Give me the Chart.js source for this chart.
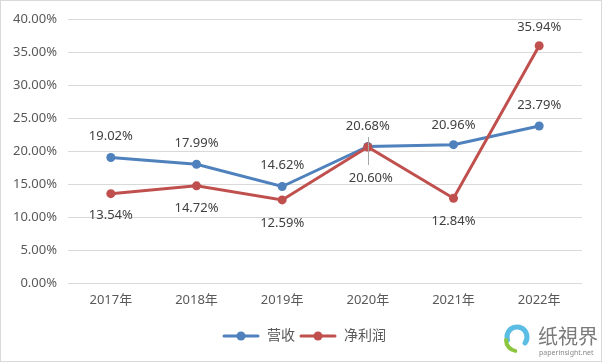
<!DOCTYPE html>
<html>
<head>
<meta charset="utf-8">
<script src="https://cdn.jsdelivr.net/npm/chart.js@4"></script>
<style>
  html, body { margin: 0; padding: 0; background: #ffffff; }
  #wrap { position: relative; width: 602px; height: 362px; }
</style>
</head>
<body>
<div id="wrap"><canvas id="c" width="602" height="362"></canvas></div>
<script>
// ---- data ----
const categories = ['2017年', '2018年', '2019年', '2020年', '2021年', '2022年'];
const revenueGrowth = [19.02, 17.99, 14.62, 20.68, 20.96, 23.79];   // 营收
const profitGrowth  = [13.54, 14.72, 12.59, 20.60, 12.84, 35.94];   // 净利润
const seriesNames = ['营收', '净利润'];
const yTicks = { min: 0, max: 40, step: 5 };

// ---- label placement (vertical offset of each value label from its point) ----
const revenueLabelDy = [-21, -21, -21, -20, -19, -21];
const profitLabelDy  = [22, 22, 23, 31, 23, -18];

const BLUE = '#4F81BD';
const RED = '#C0504D';
const FONT = "'Noto Sans', 'Noto Sans CJK SC', sans-serif";

function legendIcon(color) {
  const c = document.createElement('canvas');
  c.width = 38; c.height = 12;
  const g = c.getContext('2d');
  g.strokeStyle = color; g.lineWidth = 3; g.lineCap = 'round';
  g.beginPath(); g.moveTo(2, 6); g.lineTo(36, 6); g.stroke();
  g.fillStyle = color;
  g.beginPath(); g.arc(19, 6, 4.5, 0, Math.PI * 2); g.fill();
  return c;
}
const icons = [legendIcon(BLUE), legendIcon(RED)];
const labelDy = [revenueLabelDy, profitLabelDy];

const valueLabels = {
  id: 'valueLabels',
  afterDatasetsDraw(chart) {
    const ctx = chart.ctx;
    ctx.save();
    ctx.font = '13px ' + FONT;
    ctx.fillStyle = '#404040';
    ctx.textAlign = 'center';
    ctx.textBaseline = 'middle';
    chart.data.datasets.forEach((ds, di) => {
      const meta = chart.getDatasetMeta(di);
      meta.data.forEach((pt, i) => {
        const dy = labelDy[di][i];
        let dx = 0;
        if (di === 1 && i === 3) {
          // leader line for the crowded 2020 label
          ctx.save();
          ctx.strokeStyle = '#a6a6a6';
          ctx.lineWidth = 1;
          ctx.beginPath();
          ctx.moveTo(Math.round(pt.x) + 0.5, pt.y - 10);
          ctx.lineTo(Math.round(pt.x) + 0.5, pt.y + 18);
          ctx.stroke();
          ctx.restore();
          dx = 3;
        }
        ctx.fillText(ds.data[i].toFixed(2) + '%', pt.x + dx, pt.y + dy);
      });
    });
    ctx.restore();
  }
};

const frameAndMark = {
  id: 'frameAndMark',
  beforeDraw(chart) {
    const ctx = chart.ctx;
    ctx.save();
    ctx.fillStyle = '#ffffff';
    ctx.fillRect(0, 0, chart.width, chart.height);
    ctx.restore();
  },
  afterDraw(chart) {
    const ctx = chart.ctx;
    ctx.save();
    ctx.strokeStyle = '#d9d9d9';
    ctx.lineWidth = 1;
    ctx.strokeRect(0.5, 0.5, chart.width - 1, chart.height - 1);
    // watermark logo
    ctx.lineCap = 'round';
    ctx.strokeStyle = '#5bbde4';
    ctx.lineWidth = 5;
    ctx.beginPath();
    ctx.arc(517, 337, 10, Math.PI * 0.9, Math.PI * 2.2);
    ctx.stroke();
    ctx.strokeStyle = '#8cc63f';
    ctx.lineWidth = 4;
    ctx.beginPath();
    ctx.arc(517, 340, 11, Math.PI * 0.55, Math.PI * 1.0);
    ctx.stroke();
    ctx.fillStyle = '#7a7a7a';
    ctx.font = "20px 'Noto Sans CJK SC', sans-serif";
    ctx.textAlign = 'left';
    ctx.textBaseline = 'middle';
    ctx.fillText('纸視界', 538, 336);
    ctx.font = "7px 'Noto Sans', sans-serif";
    ctx.fillStyle = '#888888';
    ctx.fillText('paperinsight.net', 539, 353);
    ctx.restore();
  }
};

new Chart(document.getElementById('c'), {
  type: 'line',
  data: {
    labels: categories,
    datasets: [
      { label: seriesNames[0], data: revenueGrowth, borderColor: BLUE, backgroundColor: BLUE,
        borderWidth: 3, pointRadius: 4.5, pointBorderWidth: 0, pointBackgroundColor: BLUE, tension: 0, order: 1 },
      { label: seriesNames[1], data: profitGrowth, borderColor: RED, backgroundColor: RED,
        borderWidth: 3, pointRadius: 4.5, pointBorderWidth: 0, pointBackgroundColor: RED, tension: 0, order: 0 }
    ]
  },
  options: {
    responsive: false,
    animation: false,
    devicePixelRatio: 1,
    layout: { padding: { left: 10, right: 4, top: 19, bottom: 9 } },
    plugins: {
      tooltip: { enabled: false },
      legend: {
        position: 'bottom',
        labels: {
          usePointStyle: true,
          pointStyleWidth: 38,
          padding: 4,
          color: '#595959',
          font: { family: FONT, size: 14 },
          sort: (a, b) => a.datasetIndex - b.datasetIndex,
          generateLabels(chart) {
            const items = Chart.defaults.plugins.legend.labels.generateLabels(chart);
            items.forEach(it => { it.pointStyle = icons[it.datasetIndex]; });
            return items;
          }
        }
      }
    },
    scales: {
      x: {
        offset: true,
        grid: { display: false, drawTicks: false },
        border: { display: false },
        ticks: { color: '#595959', font: { family: FONT, size: 13 }, padding: 9, maxRotation: 0 },
        afterFit(scale) { scale.height = 42; }
      },
      y: {
        min: yTicks.min, max: yTicks.max,
        grid: { color: '#d9d9d9', lineWidth: 1, drawTicks: false },
        border: { display: false },
        ticks: {
          stepSize: yTicks.step,
          color: '#595959',
          font: { family: FONT, size: 13 },
          padding: 11,
          callback: v => v.toFixed(2) + '%'
        },
        afterFit(scale) { scale.width = 58; }
      },
      yRight: {
        position: 'right',
        display: true,
        min: yTicks.min, max: yTicks.max,
        grid: { display: false, drawTicks: false },
        border: { display: false },
        ticks: { display: false },
        afterFit(scale) { scale.width = 16; }
      }
    }
  },
  plugins: [frameAndMark, valueLabels]
});
</script>
</body>
</html>
